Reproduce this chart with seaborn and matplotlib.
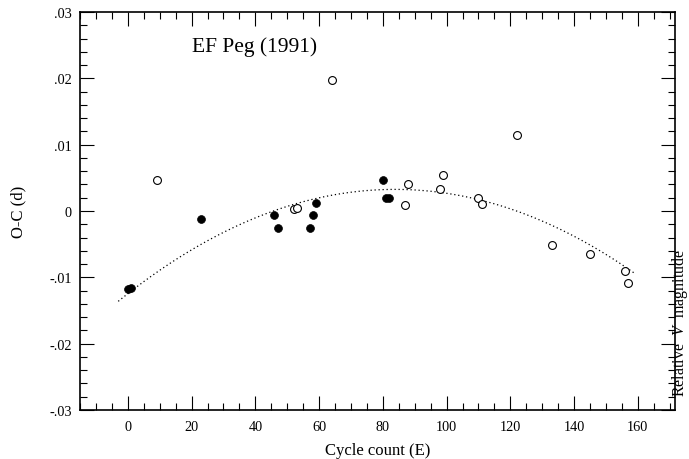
import numpy as np
import pandas as pd
import seaborn as sns
import matplotlib
matplotlib.use("Agg")
import matplotlib.pyplot as plt
from matplotlib.ticker import MultipleLocator, FuncFormatter

# ---- data ----
filled_E = [0, 1, 23, 46, 47, 57, 58, 59, 80, 81, 82]
filled_oc = [-0.0118, -0.0116, -0.0012, -0.00054, -0.0025, -0.0026, -0.00054,
             0.00116, 0.00467, 0.00191, 0.00196]

open_E = [9, 52, 53, 64, 87, 88, 98, 99, 110, 111, 122, 133, 145, 156, 157]
open_oc = [0.00463, 0.00026, 0.0004, 0.0198, 0.0009, 0.00403, 0.0033, 0.00538,
           0.00196, 0.00101, 0.01152, -0.00507, -0.00648, -0.00899, -0.01085]

# points
curve_E = [-3, 20, 40, 60, 80, 100, 120, 140, 159]
curve_oc = [-0.0136, -0.0059, -0.0010, 0.0020, 0.0032, 0.0027, 0.0003, -0.0038, -0.0094]

title_text = "EF Peg (1991)"
x_label = "Cycle count (E)"
y_label = "O-C (d)"
right_label = "Relative  $V$  magnitude"

# ---- styling ----
sns.set_theme(style="ticks")
plt.rcParams["font.family"] = ["Liberation Serif", "DejaVu Serif"]
plt.rcParams["mathtext.fontset"] = "custom"
plt.rcParams["mathtext.rm"] = "Liberation Serif"
plt.rcParams["mathtext.it"] = "Liberation Serif:italic"

fig = plt.figure(figsize=(6.89, 4.6), dpi=100)
ax = fig.add_axes([0.1161, 0.1065, 0.979 - 0.1161, 0.9717 - 0.1065])

df_f = pd.DataFrame({"E": filled_E, "OC": filled_oc})
df_o = pd.DataFrame({"E": open_E, "OC": open_oc})
df_c = pd.DataFrame({"E": curve_E, "OC": curve_oc})

sns.regplot(data=df_c, x="E", y="OC", order=2, ci=None, scatter=False,
            truncate=True, ax=ax,
            line_kws=dict(color="black", lw=0.9, ls=(0, (1, 2.2))))

sns.scatterplot(data=df_f, x="E", y="OC", ax=ax, s=32, color="black",
                edgecolor="black", linewidth=0.5, zorder=3)
sns.scatterplot(data=df_o, x="E", y="OC", ax=ax, s=32, facecolor="white",
                edgecolor="black", linewidth=0.8, zorder=3)

ax.set_xlim(-15, 171.5)
ax.set_ylim(-0.03, 0.03)

ax.xaxis.set_major_locator(MultipleLocator(20))
ax.xaxis.set_minor_locator(MultipleLocator(5))
ax.yaxis.set_major_locator(MultipleLocator(0.01))
ax.yaxis.set_minor_locator(MultipleLocator(0.002))


def yfmt(v, pos):
    if abs(v) < 1e-9:
        return "0"
    s = f"{v:.2f}"
    return s.replace("0.", ".")


ax.yaxis.set_major_formatter(FuncFormatter(yfmt))
ax.xaxis.set_major_formatter(FuncFormatter(lambda v, p: f"{v:.0f}"))

ax.tick_params(which="both", direction="in", top=True, right=True,
               labelsize=10.3, color="black", labelcolor="black")
ax.tick_params(which="major", length=10.4, width=0.8, pad=6)
ax.tick_params(which="minor", length=5.0, width=0.8)
ax.tick_params(axis="x", which="major", pad=7)

for sp in ax.spines.values():
    sp.set_linewidth(1.2)
    sp.set_color("black")

ax.set_xlabel(x_label, fontsize=12, color="black")
ax.set_ylabel(y_label, fontsize=12, color="black")
ax.xaxis.set_label_coords(0.5, -0.1)
ax.xaxis.label.set_va("center")
ax.yaxis.set_label_coords(-0.104, 0.5)
ax.yaxis.label.set_va("center")

ax.text(20, 0.0248, title_text, ha="left", va="center", fontsize=15.5,
        color="black")

fig.text(680 / 689, (460 - 397) / 460, right_label, rotation=90,
         ha="center", va="bottom", fontsize=11.5, color="black")

fig.savefig("out.png", dpi=100)
